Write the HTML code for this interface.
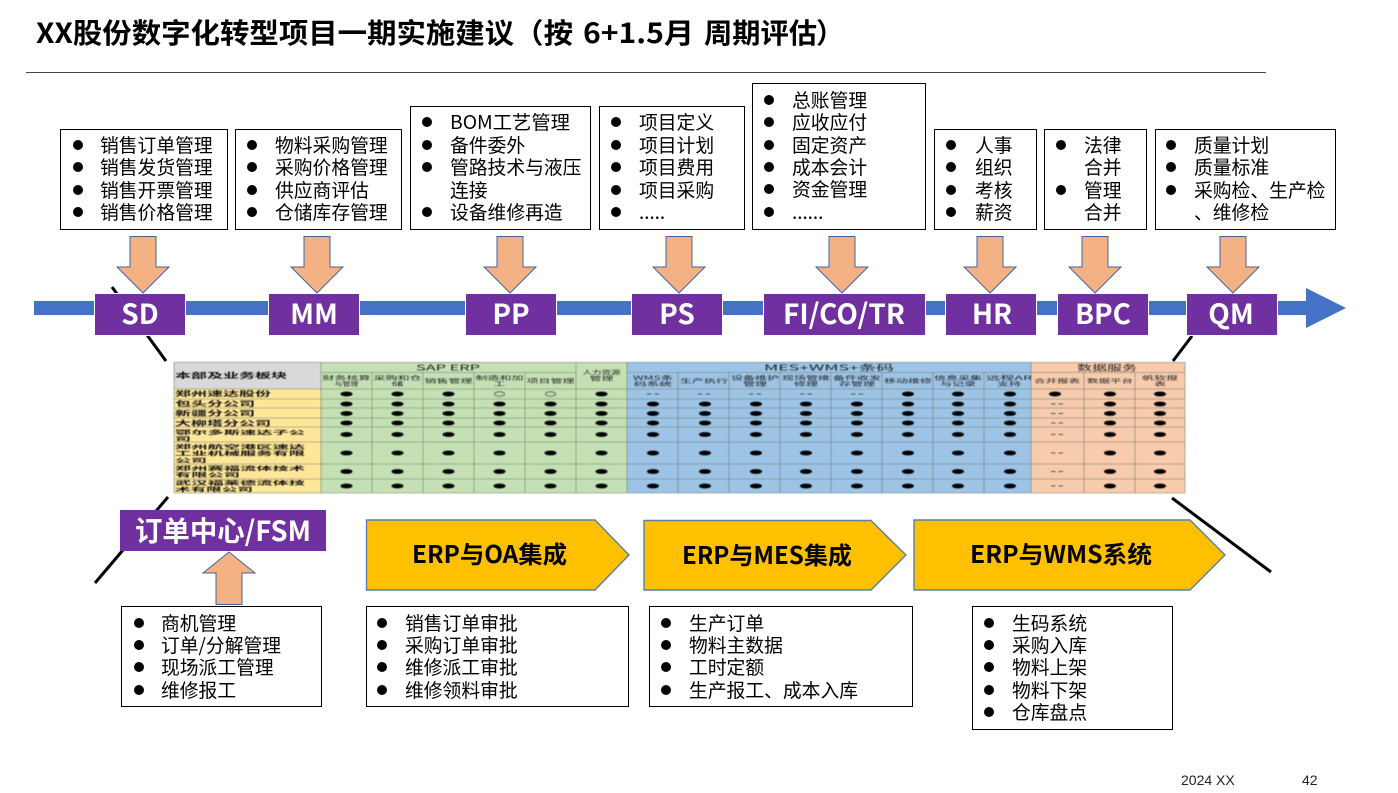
<!DOCTYPE html>
<html lang="zh"><head><meta charset="utf-8"><title>XX股份数字化转型项目一期实施建议</title>
<style>
html,body{margin:0;padding:0;background:#fff;width:1398px;height:793px;overflow:hidden}
svg{display:block}
text{font-family:"Liberation Sans","Noto Sans CJK SC",sans-serif}
.t{font-size:28px;font-weight:bold;fill:#000;font-family:"Noto Sans CJK SC",sans-serif}
.l{font-size:18.8px;fill:#000;font-family:"Noto Sans CJK SC",sans-serif}
.p{font-size:28px;font-weight:bold;fill:#fff;text-anchor:middle;font-family:"Noto Sans CJK SC",sans-serif}
.g{font-size:24px;font-weight:bold;fill:#000;font-family:"Noto Sans CJK SC",sans-serif}
.rl{font-size:7px;font-weight:bold;fill:#111;font-family:"Noto Sans CJK SC",sans-serif}
.r2{font-size:5.600px;font-weight:bold;fill:#111;font-family:"Noto Sans CJK SC",sans-serif}
.h{font-size:5.600px;fill:#222;text-anchor:middle;font-family:"Noto Sans CJK SC",sans-serif}
.hh{font-size:8px;fill:#222;text-anchor:middle;font-family:"Noto Sans CJK SC",sans-serif}
.d{font-size:14px;fill:#222}
.box{fill:#fff;stroke:#000;stroke-width:1}
.arr{fill:#f4b183;stroke:#41659b;stroke-width:1}
.pent{fill:#ffc000;stroke:#5b7fa6;stroke-width:1.4}
.diag{stroke:#000;stroke-width:3;fill:none}
.pur{fill:#7030a0;stroke:#fff;stroke-width:1}
</style></head><body>
<svg width="1398" height="793" viewBox="0 0 1398 793" xmlns="http://www.w3.org/2000/svg" xmlns:xlink="http://www.w3.org/1999/xlink">
<defs>
<g id="dotsS"><ellipse cx="346.5" cy="0" rx="6" ry="2.4"/><ellipse cx="397.5" cy="0" rx="6" ry="2.4"/><ellipse cx="448.5" cy="0" rx="6" ry="2.4"/><ellipse cx="499.5" cy="0" rx="6" ry="2.4"/><ellipse cx="550.5" cy="0" rx="6" ry="2.4"/></g>
<g id="dotsH"><ellipse cx="601.5" cy="0" rx="6" ry="2.4"/></g>
<g id="dotsM"><ellipse cx="653" cy="0" rx="6" ry="2.4"/><ellipse cx="705" cy="0" rx="6" ry="2.4"/><ellipse cx="756" cy="0" rx="6" ry="2.4"/><ellipse cx="806" cy="0" rx="6" ry="2.4"/><ellipse cx="857" cy="0" rx="6" ry="2.4"/></g>
<g id="dotsN"><ellipse cx="908" cy="0" rx="6" ry="2.4"/><ellipse cx="958" cy="0" rx="6" ry="2.4"/><ellipse cx="1010" cy="0" rx="6" ry="2.4"/></g>
<g id="dotsP"><ellipse cx="1110" cy="0" rx="6" ry="2.4"/><ellipse cx="1160" cy="0" rx="6" ry="2.4"/></g>
<g id="dash"><rect x="-6" y="-.5" width="4.5" height="1" fill="#555"/><rect x="1.5" y="-.5" width="4.5" height="1" fill="#555"/></g>
</defs>

<text class="t" x="36" y="43" textLength="537" lengthAdjust="spacingAndGlyphs">XX股份数字化转型项目一期实施建议（按</text>
<text class="t" x="583" y="43" textLength="111" lengthAdjust="spacingAndGlyphs">6+1.5月</text>
<text class="t" x="704" y="43" textLength="113" lengthAdjust="spacingAndGlyphs">周期评估</text>
<text class="t" x="816" y="43">）</text>
<line x1="26" y1="72.5" x2="1266" y2="72.5" stroke="#444" stroke-width="1"/>

<!-- diagonal lines -->
<line class="diag" x1="112" y1="287" x2="166" y2="361"/>
<line class="diag" x1="95" y1="583" x2="168" y2="497"/>
<line class="diag" x1="1173" y1="361" x2="1192" y2="336"/>
<line class="diag" x1="1172" y1="498" x2="1271" y2="572"/>

<!-- timeline -->
<rect x="34" y="301" width="1274" height="14" fill="#4472c4"/>
<polygon points="1306,288 1346,308 1306,328" fill="#4472c4"/>

<!-- top boxes -->
<rect class="box" x="60.500" y="129.500" width="167" height="100"/>
<rect class="box" x="235.500" y="129.500" width="166" height="100"/>
<rect class="box" x="410.500" y="106.500" width="180" height="123"/>
<rect class="box" x="599.500" y="106.500" width="145" height="123"/>
<rect class="box" x="752.500" y="83.500" width="173" height="146"/>
<rect class="box" x="934.500" y="129.500" width="102" height="100"/>
<rect class="box" x="1044.500" y="129.500" width="102" height="100"/>
<rect class="box" x="1155.500" y="129.500" width="180" height="100"/>

<g fill="#000">
<circle cx="78" cy="145" r="5"/><circle cx="78" cy="167" r="5"/><circle cx="78" cy="190" r="5"/><circle cx="78" cy="212" r="5"/>
<circle cx="252" cy="145" r="5"/><circle cx="252" cy="167" r="5"/><circle cx="252" cy="190" r="5"/><circle cx="252" cy="212" r="5"/>
<circle cx="427" cy="122" r="5"/><circle cx="427" cy="145" r="5"/><circle cx="427" cy="167" r="5"/><circle cx="427" cy="212" r="5"/>
<circle cx="616" cy="122" r="5"/><circle cx="616" cy="145" r="5"/><circle cx="616" cy="167" r="5"/><circle cx="616" cy="190" r="5"/><circle cx="616" cy="212" r="5"/>
<circle cx="769" cy="100" r="5"/><circle cx="769" cy="122" r="5"/><circle cx="769" cy="145" r="5"/><circle cx="769" cy="167" r="5"/><circle cx="769" cy="189" r="5"/><circle cx="769" cy="212" r="5"/>
<circle cx="951" cy="145" r="5"/><circle cx="951" cy="167" r="5"/><circle cx="951" cy="190" r="5"/><circle cx="951" cy="212" r="5"/>
<circle cx="1061" cy="145" r="5"/><circle cx="1061" cy="190" r="5"/>
<circle cx="1171" cy="145" r="5"/><circle cx="1171" cy="167" r="5"/><circle cx="1171" cy="190" r="5"/>
<circle cx="139" cy="623" r="5"/><circle cx="139" cy="645" r="5"/><circle cx="139" cy="667" r="5"/><circle cx="139" cy="690" r="5"/>
<circle cx="382" cy="623" r="5"/><circle cx="382" cy="645" r="5"/><circle cx="382" cy="667" r="5"/><circle cx="382" cy="690" r="5"/>
<circle cx="666" cy="623" r="5"/><circle cx="666" cy="645" r="5"/><circle cx="666" cy="667" r="5"/><circle cx="666" cy="690" r="5"/>
<circle cx="989" cy="623" r="5"/><circle cx="989" cy="645" r="5"/><circle cx="989" cy="667" r="5"/><circle cx="989" cy="690" r="5"/><circle cx="989" cy="712" r="5"/>
</g>

<g class="l">
<text class="l" x="100" y="152">销售订单管理</text><text class="l" x="100" y="174">销售发货管理</text><text class="l" x="100" y="197">销售开票管理</text><text class="l" x="100" y="219">销售价格管理</text>
<text class="l" x="275" y="152">物料采购管理</text><text class="l" x="275" y="174">采购价格管理</text><text class="l" x="275" y="197">供应商评估</text><text class="l" x="275" y="219">仓储库存管理</text>
<text class="l" x="450" y="129" textLength="120" lengthAdjust="spacingAndGlyphs">BOM工艺管理</text><text class="l" x="450" y="152">备件委外</text><text class="l" x="450" y="174">管路技术与液压</text><text class="l" x="450" y="197">连接</text><text class="l" x="450" y="219">设备维修再造</text>
<text class="l" x="639" y="129">项目定义</text><text class="l" x="639" y="152">项目计划</text><text class="l" x="639" y="174">项目费用</text><text class="l" x="639" y="197">项目采购</text><text class="l" x="639" y="219">.....</text>
<text class="l" x="792" y="107">总账管理</text><text class="l" x="792" y="129">应收应付</text><text class="l" x="792" y="152">固定资产</text><text class="l" x="792" y="174">成本会计</text><text class="l" x="792" y="196">资金管理</text><text class="l" x="792" y="219">......</text>
<text class="l" x="975" y="152">人事</text><text class="l" x="975" y="174">组织</text><text class="l" x="975" y="197">考核</text><text class="l" x="975" y="219">薪资</text>
<text class="l" x="1084" y="152">法律</text><text class="l" x="1084" y="174">合并</text><text class="l" x="1084" y="197">管理</text><text class="l" x="1084" y="219">合并</text>
<text class="l" x="1194" y="152">质量计划</text><text class="l" x="1194" y="174">质量标准</text><text class="l" x="1194" y="197">采购检、生产检</text><text class="l" x="1194" y="219">、维修检</text>
</g>

<!-- purple labels -->
<rect class="pur" x="94.500" y="293.500" width="91" height="42"/>
<rect class="pur" x="268.500" y="293.500" width="91" height="42"/>
<rect class="pur" x="465.500" y="293.500" width="91" height="42"/>
<rect class="pur" x="631.500" y="293.500" width="91" height="42"/>
<rect class="pur" x="763.500" y="293.500" width="162" height="42"/>
<rect class="pur" x="945.500" y="293.500" width="91" height="42"/>
<rect class="pur" x="1057.500" y="293.500" width="91" height="42"/>
<rect class="pur" x="1186.500" y="293.500" width="91" height="42"/>
<text class="p" x="140" y="324">SD</text>
<text class="p" x="314" y="324">MM</text>
<text class="p" x="511" y="324">PP</text>
<text class="p" x="677" y="324">PS</text>
<text class="p" x="844" y="324">FI/CO/TR</text>
<text class="p" x="992" y="324">HR</text>
<text class="p" x="1103" y="324">BPC</text>
<text class="p" x="1231" y="324">QM</text>

<!-- down arrows -->
<polygon class="arr" points="130,236.500 156,236.500 156,267 169,267 143,293 117,267 130,267"/>
<polygon class="arr" points="304,236.500 330,236.500 330,267 343,267 317,293 291,267 304,267"/>
<polygon class="arr" points="497,236.500 523,236.500 523,267 536,267 510,293 484,267 497,267"/>
<polygon class="arr" points="666,236.500 692,236.500 692,267 705,267 679,293 653,267 666,267"/>
<polygon class="arr" points="829,236.500 855,236.500 855,267 868,267 842,293 816,267 829,267"/>
<polygon class="arr" points="977,236.500 1003,236.500 1003,267 1016,267 990,293 964,267 977,267"/>
<polygon class="arr" points="1082,236.500 1108,236.500 1108,267 1121,267 1095,293 1069,267 1082,267"/>
<polygon class="arr" points="1220,236.500 1246,236.500 1246,267 1259,267 1233,293 1207,267 1220,267"/>

<!-- table -->
<g style="filter:blur(.4px)">
<rect x="174" y="362" width="147" height="27" fill="#d9d9d9"/>
<rect x="174" y="389" width="147" height="104" fill="#ffe699"/>
<rect x="321" y="362" width="306" height="131" fill="#c5e0b4"/>
<rect x="627" y="362" width="404" height="131" fill="#9dc3e6"/>
<rect x="1031" y="362" width="154" height="131" fill="#f8cbad"/>
<g stroke="#6f7f6f" stroke-width=".6" fill="none">
<path d="M174 362.500H1185M321 372.500H576M627 372.500H1185M174 389H1185M174 399H1185M174 408H1185M174 418H1185M174 427H1185M174 442H1185M174 464H1185M174 479H1185M174 493H1185"/>
<path d="M174 362V493M321 362V493M372 372V493M423 372V493M474 372V493M525 372V493M576 362V493M627 362V493M678 372V493M729 372V493M780 372V493M831 372V493M882 372V493M933 372V493M984 372V493M1031 362V493M1084 372V493M1135 372V493M1185 362V493"/>
</g>

<text class="rl" x="175" y="378" textLength="112" lengthAdjust="spacingAndGlyphs" style="font-size:7.500px">本部及业务板块</text>
<text class="rl" x="175" y="396" textLength="96" lengthAdjust="spacingAndGlyphs">郑州速达股份</text>
<text class="rl" x="175" y="406" textLength="80" lengthAdjust="spacingAndGlyphs">包头分公司</text>
<text class="rl" x="175" y="415.700" textLength="80" lengthAdjust="spacingAndGlyphs">新疆分公司</text>
<text class="rl" x="175" y="425.400" textLength="96" lengthAdjust="spacingAndGlyphs">大柳塔分公司</text>
<text class="r2" x="175" y="434.500" textLength="130" lengthAdjust="spacingAndGlyphs">鄂尔多斯速达子公</text>
<text class="r2" x="175" y="440.800" textLength="16" lengthAdjust="spacingAndGlyphs">司</text>
<text class="r2" x="175" y="449" textLength="130" lengthAdjust="spacingAndGlyphs">郑州航空港区速达</text>
<text class="r2" x="175" y="455.700" textLength="130" lengthAdjust="spacingAndGlyphs">工业机械服务有限</text>
<text class="r2" x="175" y="462.400" textLength="32" lengthAdjust="spacingAndGlyphs">公司</text>
<text class="r2" x="175" y="470.700" textLength="130" lengthAdjust="spacingAndGlyphs">郑州赛福流体技术</text>
<text class="r2" x="175" y="476.800" textLength="65" lengthAdjust="spacingAndGlyphs">有限公司</text>
<text class="r2" x="175" y="484.800" textLength="130" lengthAdjust="spacingAndGlyphs">武汉福莱德流体技</text>
<text class="r2" x="175" y="491.500" textLength="78" lengthAdjust="spacingAndGlyphs">术有限公司</text>

<text class="hh" x="448" y="370.500" textLength="64" lengthAdjust="spacingAndGlyphs">SAP ERP</text>
<text class="hh" x="829" y="370.500" textLength="130" lengthAdjust="spacingAndGlyphs">MES+WMS+条码</text>
<text class="hh" x="1107" y="370.500" textLength="60" lengthAdjust="spacingAndGlyphs">数据服务</text>

<text class="h" x="346.500" y="380" textLength="48" lengthAdjust="spacingAndGlyphs">财务核算</text><text class="h" x="346.500" y="386" textLength="24" lengthAdjust="spacingAndGlyphs">与管理</text>
<text class="h" x="397.500" y="380" textLength="48" lengthAdjust="spacingAndGlyphs">采购和仓</text><text class="h" x="397.500" y="386" textLength="12" lengthAdjust="spacingAndGlyphs">储</text>
<text class="h" x="448.500" y="383" textLength="48" lengthAdjust="spacingAndGlyphs">销售管理</text>
<text class="h" x="499.500" y="380" textLength="48" lengthAdjust="spacingAndGlyphs">制造和加</text><text class="h" x="499.500" y="386" textLength="12" lengthAdjust="spacingAndGlyphs">工</text>
<text class="h" x="550.500" y="383" textLength="48" lengthAdjust="spacingAndGlyphs">项目管理</text>
<text class="h" x="601.500" y="374.500" textLength="38" lengthAdjust="spacingAndGlyphs">人力资源</text><text class="h" x="601.500" y="380.500" textLength="24" lengthAdjust="spacingAndGlyphs">管理</text>
<text class="h" x="653" y="380" textLength="40" lengthAdjust="spacingAndGlyphs">WMS条</text><text class="h" x="653" y="386" textLength="38" lengthAdjust="spacingAndGlyphs">码系统</text>
<text class="h" x="704" y="383" textLength="48" lengthAdjust="spacingAndGlyphs">生产执行</text>
<text class="h" x="755" y="380" textLength="48" lengthAdjust="spacingAndGlyphs">设备维护</text><text class="h" x="755" y="386" textLength="24" lengthAdjust="spacingAndGlyphs">管理</text>
<text class="h" x="806" y="380" textLength="48" lengthAdjust="spacingAndGlyphs">现场管维</text><text class="h" x="806" y="386" textLength="24" lengthAdjust="spacingAndGlyphs">修理</text>
<text class="h" x="857" y="380" textLength="48" lengthAdjust="spacingAndGlyphs">备件收发</text><text class="h" x="857" y="386" textLength="36" lengthAdjust="spacingAndGlyphs">存管理</text>
<text class="h" x="908" y="383" textLength="48" lengthAdjust="spacingAndGlyphs">移动维修</text>
<text class="h" x="958" y="380" textLength="48" lengthAdjust="spacingAndGlyphs">信息采集</text><text class="h" x="958" y="386" textLength="36" lengthAdjust="spacingAndGlyphs">与记录</text>
<text class="h" x="1009" y="380" textLength="46" lengthAdjust="spacingAndGlyphs">远程AR</text><text class="h" x="1009" y="386" textLength="24" lengthAdjust="spacingAndGlyphs">支持</text>
<text class="h" x="1057" y="383" textLength="46" lengthAdjust="spacingAndGlyphs">合并报表</text>
<text class="h" x="1110" y="383" textLength="46" lengthAdjust="spacingAndGlyphs">数据平台</text>
<text class="h" x="1160" y="380" textLength="36" lengthAdjust="spacingAndGlyphs">帆软报</text><text class="h" x="1160" y="386" textLength="12" lengthAdjust="spacingAndGlyphs">表</text>

<g fill="#000">
<!-- first row -->
<ellipse cx="346.500" cy="394" rx="6" ry="2.4"/><ellipse cx="397.500" cy="394" rx="6" ry="2.4"/><ellipse cx="448.500" cy="394" rx="6" ry="2.4"/>
<ellipse cx="499.500" cy="394" rx="5" ry="2.2" fill="none" stroke="#666" stroke-width="1"/><ellipse cx="550.500" cy="394" rx="5" ry="2.2" fill="none" stroke="#666" stroke-width="1"/>
<use xlink:href="#dotsH" href="#dotsH" y="394"/>
<use xlink:href="#dotsN" href="#dotsN" y="394"/>
<ellipse cx="1055" cy="394" rx="6" ry="2.4"/>
<use xlink:href="#dotsP" href="#dotsP" y="394"/>
<use xlink:href="#dash" href="#dash" x="653" y="394"/><use xlink:href="#dash" href="#dash" x="704" y="394"/><use xlink:href="#dash" href="#dash" x="755" y="394"/><use xlink:href="#dash" href="#dash" x="806" y="394"/><use xlink:href="#dash" href="#dash" x="857" y="394"/>
<!-- other rows -->
<g><use xlink:href="#dotsS" href="#dotsS" y="404"/><use xlink:href="#dotsH" href="#dotsH" y="404"/><use xlink:href="#dotsM" href="#dotsM" y="404"/><use xlink:href="#dotsN" href="#dotsN" y="404"/><use xlink:href="#dotsP" href="#dotsP" y="404"/><use xlink:href="#dash" href="#dash" x="1057" y="404"/></g>
<g><use xlink:href="#dotsS" href="#dotsS" y="413.500"/><use xlink:href="#dotsH" href="#dotsH" y="413.500"/><use xlink:href="#dotsM" href="#dotsM" y="413.500"/><use xlink:href="#dotsN" href="#dotsN" y="413.500"/><use xlink:href="#dotsP" href="#dotsP" y="413.500"/><use xlink:href="#dash" href="#dash" x="1057" y="413.500"/></g>
<g><use xlink:href="#dotsS" href="#dotsS" y="423"/><use xlink:href="#dotsH" href="#dotsH" y="423"/><use xlink:href="#dotsM" href="#dotsM" y="423"/><use xlink:href="#dotsN" href="#dotsN" y="423"/><use xlink:href="#dotsP" href="#dotsP" y="423"/><use xlink:href="#dash" href="#dash" x="1057" y="423"/></g>
<g><use xlink:href="#dotsS" href="#dotsS" y="434.500"/><use xlink:href="#dotsH" href="#dotsH" y="434.500"/><use xlink:href="#dotsM" href="#dotsM" y="434.500"/><use xlink:href="#dotsN" href="#dotsN" y="434.500"/><use xlink:href="#dotsP" href="#dotsP" y="434.500"/><use xlink:href="#dash" href="#dash" x="1057" y="434.500"/></g>
<g><use xlink:href="#dotsS" href="#dotsS" y="453"/><use xlink:href="#dotsH" href="#dotsH" y="453"/><use xlink:href="#dotsM" href="#dotsM" y="453"/><use xlink:href="#dotsN" href="#dotsN" y="453"/><use xlink:href="#dotsP" href="#dotsP" y="453"/><use xlink:href="#dash" href="#dash" x="1057" y="453"/></g>
<g><use xlink:href="#dotsS" href="#dotsS" y="471.500"/><use xlink:href="#dotsH" href="#dotsH" y="471.500"/><use xlink:href="#dotsM" href="#dotsM" y="471.500"/><use xlink:href="#dotsN" href="#dotsN" y="471.500"/><use xlink:href="#dotsP" href="#dotsP" y="471.500"/><use xlink:href="#dash" href="#dash" x="1057" y="471.500"/></g>
<g><use xlink:href="#dotsS" href="#dotsS" y="486"/><use xlink:href="#dotsH" href="#dotsH" y="486"/><use xlink:href="#dotsM" href="#dotsM" y="486"/><use xlink:href="#dotsN" href="#dotsN" y="486"/><use xlink:href="#dotsP" href="#dotsP" y="486"/><use xlink:href="#dash" href="#dash" x="1057" y="486"/></g>
</g>
</g>

<!-- FSM -->
<rect x="120" y="510" width="206" height="41" fill="#7030a0"/>
<text class="p" x="223" y="541" textLength="176" lengthAdjust="spacingAndGlyphs">订单中心/FSM</text>
<polygon class="arr" points="229,552 255,573 242,573 242,604.500 216,604.500 216,573 203,573"/>

<!-- pentagons -->
<polygon class="pent" points="366.500,520 595,520 629,555 595,590 366.500,590"/>
<polygon class="pent" points="644,520.500 871,520.500 906,555 871,590 644,590"/>
<polygon class="pent" points="914,520 1190,520 1225,555 1190,590 914,590"/>
<text class="g" x="412" y="563" textLength="155" lengthAdjust="spacingAndGlyphs">ERP与OA集成</text>
<text class="g" x="682" y="564" textLength="170" lengthAdjust="spacingAndGlyphs">ERP与MES集成</text>
<text class="g" x="970" y="563" textLength="182" lengthAdjust="spacingAndGlyphs">ERP与WMS系统</text>

<!-- bottom boxes -->
<rect class="box" x="121.500" y="606.500" width="200" height="100" style="fill-opacity:0"/>
<rect class="box" x="366.500" y="606.500" width="262" height="100" style="fill-opacity:0"/>
<rect class="box" x="649.500" y="606.500" width="263" height="100" style="fill-opacity:0"/>
<rect class="box" x="972.500" y="606.500" width="200" height="123" style="fill-opacity:0"/>
<text class="l" x="161" y="630">商机管理</text><text class="l" x="161" y="652">订单/分解管理</text><text class="l" x="161" y="674">现场派工管理</text><text class="l" x="161" y="697">维修报工</text>
<text class="l" x="405" y="630">销售订单审批</text><text class="l" x="405" y="652">采购订单审批</text><text class="l" x="405" y="674">维修派工审批</text><text class="l" x="405" y="697">维修领料审批</text>
<text class="l" x="689" y="630">生产订单</text><text class="l" x="689" y="652">物料主数据</text><text class="l" x="689" y="674">工时定额</text><text class="l" x="689" y="697">生产报工、成本入库</text>
<text class="l" x="1012" y="630">生码系统</text><text class="l" x="1012" y="652">采购入库</text><text class="l" x="1012" y="674">物料上架</text><text class="l" x="1012" y="697">物料下架</text><text class="l" x="1012" y="719">仓库盘点</text>

<text class="d" x="1181" y="785">2024 XX</text>
<text class="d" x="1302" y="785">42</text>
</svg>
</body></html>
